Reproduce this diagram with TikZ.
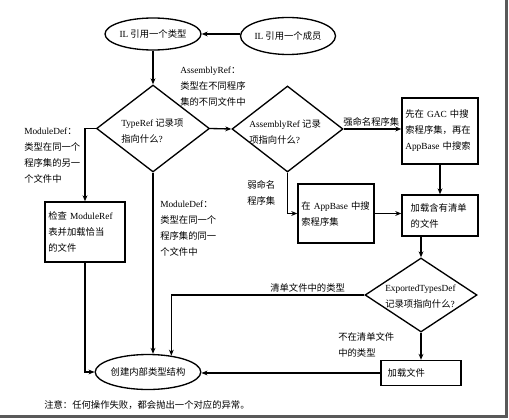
\documentclass[tikz,border=0pt]{standalone}
\usepackage{fontspec}
\setmainfont{Noto Sans CJK SC}
\newfontfamily\lat{Liberation Serif}
\usetikzlibrary{shapes.geometric,arrows.meta}
\begin{document}
\begin{tikzpicture}[x=0.75pt,y=-0.75pt,
  every node/.style={font=\fontsize{7}{12}\selectfont},
  ln/.style={line width=1pt},
  arr/.style={ln,-{Stealth[length=4.5pt,width=3.6pt]}},
  oval/.style={draw,ln,ellipse,inner sep=0pt},
  box/.style={draw,ln,rectangle,align=left,inner xsep=2.5pt,inner ysep=0pt},
  dia/.style={draw,ln,diamond,inner sep=0pt},
  lbl/.style={align=left,inner sep=0pt,anchor=west},
  frame/.style={line width=2.2pt,black!65}
]
\useasboundingbox (0,0) rectangle (509,420);
\draw[frame] (0,416.5) -- (506.5,416.5) -- (506.5,0);

% ellipses
\node[oval,minimum width=72pt,minimum height=24pt] (e1) at (153,34) {{\lat IL} 引用一个类型};
\node[oval,minimum width=71.25pt,minimum height=27.75pt] (e2) at (288,36) {{\lat IL} 引用一个成员};
\node[oval,minimum width=75pt,minimum height=26.25pt] (e3) at (148,372) {创建内部类型结构};

% diamonds
\node[dia,minimum width=84.75pt,minimum height=65.25pt] (d1) at (153,128.5) {};
\node[lbl] (d1t) at (121,131) {{\lat TypeRef} 记录项\\指向什么{\lat ?}};
\node[dia,minimum width=83.25pt,minimum height=64.5pt] (d2) at (287.5,129) {};
\node[lbl] (d2t) at (249,132.5) {{\lat AssemblyRef} 记录\\项指向什么{\lat ?}};
\node[dia,minimum width=84pt,minimum height=55.5pt] (d3) at (421,295) {};
\node[lbl] (d3t) at (385,297) {{\lat ExportedTypesDef}\\记录项指向什么{\lat ?}};

% boxes
\node[box,text width=52pt,minimum height=49.5pt] (gac) at (440,131) {先在 {\lat GAC} 中搜\\索程序集，再在\\{\lat AppBase} 中搜索};
\node[box,text width=44pt,inner xsep=6.5pt,minimum height=30.75pt] (load) at (440,215.5) {加载含有清单\\的文件};
\node[box,text width=52pt,minimum height=44.25pt] (app) at (336,213.5) {在 {\lat AppBase} 中搜\\索程序集};
\node[box,text width=55pt,minimum height=45pt] (modref) at (85,232) {检查 {\lat ModuleRef}\\表并加载恰当\\的文件};
\node[box,text width=50pt,inner xsep=5pt,minimum height=18.75pt] (lf) at (421,373) {加载文件};

% labels
\node[lbl] (l1) at (180,86.5) {{\lat AssemblyRef}：\\类型在不同程序\\集的不同文件中};
\node[lbl] (l2) at (24,156) {{\lat ModuleDef}：\\类型在同一个\\程序集的另一\\个文件中};
\node[lbl] (l3) at (160,229) {{\lat ModuleDef}：\\类型在同一个\\程序集的同一\\个文件中};
\node[lbl] (l4) at (247,193) {弱命名\\程序集};
\node[lbl] (l5) at (343,122) {强命名程序集};
\node[lbl] (l6) at (270,288) {清单文件中的类型};
\node[lbl] (l7) at (338,344.5) {不在清单文件\\中的类型};
\node[lbl] (note) at (44,405) {注意：任何操作失败，都会抛出一个对应的异常。};

% connectors
\draw[arr] (e2.west |- e1.east) -- (e1.east);
\draw[arr] (e1.south) -- (d1.north);
\draw[arr] (d1.east) -- (d2.west);
\draw[arr] (d2.east) -- (d2.east -| gac.west);
\draw[arr] (gac.south) -- (load.north);
\draw[arr] (d2.south) |- (app.west);
\draw[arr] (app.east) -- (app.east -| load.west);
\draw[arr] (load.south -| d3.north) -- (d3.north);
\draw[arr] (d3.west) -| (e3.35);
\draw[arr] (d1.south) -- (d1.south |- e3.north);
\draw[arr] (d1.west) -| (modref.north);
\draw[arr] (modref.south) |- (e3.west);
\draw[arr] (d3.south) -- (lf.north);
\draw[arr] (lf.west) -- (lf.west -| e3.east);
\end{tikzpicture}
\end{document}
